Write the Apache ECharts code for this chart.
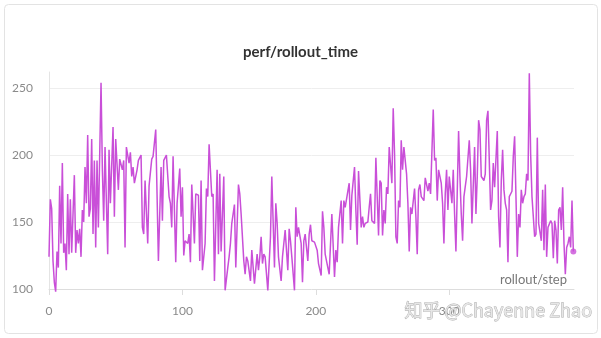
<!DOCTYPE html>
<html>
<head>
<meta charset="utf-8">
<script src="https://cdn.jsdelivr.net/npm/echarts@6/dist/echarts.min.js"></script>
<style>
html,body{margin:0;padding:0;background:#fff;}
#chart{width:601px;height:338px;}
</style>
</head>
<body>
<div id="chart"></div>
<script>
// ---- data ----
var chartTitle = 'perf/rollout_time';
var xAxisName = 'rollout/step';
var watermark = '知乎 @Chayenne Zhao';
var yTickValues = [100, 150, 200, 250];
var xTickValues = [0, 100, 200, 300];

var steps = [0,1,2,3,4,5,6,7,8,9,10,11,12,13,14,15,16,17,19,20,21,22,23,24,25,26,27,28,29,30,31,32,33,34,35,36,37,39,40,41,42,44,45,46,48,49,50,52,53,55,56,57,58,60,61,62,63,64,66,67,69,70,71,72,74,75,77,78,80,82,84,85,86,88,90,91,92,93,95,96,98,99,100,101,102,104,105,106,107,109,110,112,113,114,115,117,118,119,120,122,123,124,126,127,128,129,131,132,134,135,136,137,139,140,142,143,144,146,147,148,149,151,152,154,156,157,158,159,160,161,162,164,166,167,169,170,171,172,174,175,176,177,179,180,181,182,184,185,186,187,189,190,191,192,194,195,196,197,199,201,202,204,205,206,207,209,210,212,214,215,216,217,219,220,221,222,224,225,226,227,229,230,231,232,234,235,236,237,239,240,241,242,244,245,247,248,249,250,251,252,253,254,255,257,258,259,260,261,262,263,264,265,266,268,269,270,271,272,274,275,276,277,278,279,281,282,284,285,286,288,289,290,291,292,294,295,296,297,298,299,300,302,303,304,305,307,308,309,310,311,313,315,316,317,319,320,321,322,323,324,326,327,328,329,331,332,333,334,336,337,338,339,340,341,342,343,344,345,347,348,349,350,351,352,353,354,355,356,357,358,359,360,361,362,364,365,366,367,369,370,371,372,373,374,376,377,378,379,380,381,382,383,384,385,386,387,388,389,390,391,392,393];

var rolloutTime = [124,167,160,121,105,98,128,116,177,134,194,127,134,114,171,126,167,127,185,127,144,134,145,124,159,150,191,164,215,154,160,212,141,196,131,196,146,254,189,151,206,126,204,164,221,154,212,174,197,189,196,131,206,194,202,184,191,179,189,196,200,146,141,181,134,177,197,199,219,121,191,151,196,200,169,164,146,199,120,164,190,154,176,125,136,134,141,120,178,134,171,170,121,181,114,134,175,169,208,169,171,106,189,126,186,128,184,99,116,124,134,149,163,116,178,171,156,121,111,124,121,106,129,104,126,114,124,139,119,126,124,99,139,184,116,164,149,124,106,124,134,144,114,145,136,124,99,161,139,146,134,105,136,141,121,141,148,136,135,129,119,110,158,146,126,116,111,156,109,129,120,146,166,134,166,161,173,179,144,170,191,159,133,188,146,154,146,149,150,161,171,151,149,198,140,181,179,140,159,149,176,171,206,179,235,201,139,134,166,161,211,189,206,186,164,128,161,156,175,154,126,174,178,169,166,183,173,179,171,234,196,198,166,189,179,164,134,171,189,159,184,164,189,156,128,218,184,156,136,169,184,211,189,149,206,156,184,226,219,184,181,186,226,233,159,166,194,176,218,154,131,181,204,174,164,159,120,169,173,199,214,169,124,156,146,174,164,169,171,186,181,261,201,169,139,141,213,149,136,174,129,178,124,146,151,149,123,151,144,119,159,161,144,176,134,111,131,134,139,131,166,128];

// ---- build ----
var lineData = steps.map(function (s, i) { return [s, rolloutTime[i]]; });
var lastPoint = [[steps[steps.length - 1], rolloutTime[rolloutTime.length - 1]]];

var chart = echarts.init(document.getElementById('chart'), null, {renderer: 'canvas'});
var FONT = 'Lato, "Noto Sans", sans-serif';
var LINE_COLOR = '#c94fd8';

chart.setOption({
  animation: false,
  backgroundColor: '#ffffff',
  title: {
    text: chartTitle,
    left: 'center',
    top: 40,
    textStyle: {fontFamily: FONT, fontSize: 15, fontWeight: 'bold', color: '#333333'}
  },
  grid: {left: 49, right: 27, top: 72, bottom: 49, containLabel: false},
  xAxis: {
    type: 'value',
    min: 0,
    max: 393.5,
    interval: 100,
    axisLine: {show: true, lineStyle: {color: '#dddddd', width: 1}},
    axisTick: {show: true, inside: false, length: 6, customValues: xTickValues, lineStyle: {color: '#dddddd'}},
    axisLabel: {customValues: xTickValues, margin: 16, color: '#8a8a8a', fontFamily: FONT, fontSize: 12},
    splitLine: {show: false}
  },
  yAxis: {
    type: 'value',
    min: 100,
    max: 262,
    interval: 50,
    axisLine: {show: true, lineStyle: {color: '#e4e4e4', width: 1}},
    axisTick: {show: false},
    axisLabel: {customValues: yTickValues, margin: 16, color: '#8a8a8a', fontFamily: FONT, fontSize: 12},
    splitLine: {show: true, showMinLine: false, showMaxLine: false, lineStyle: {color: '#eeeeee', width: 1}}
  },
  series: [
    {
      type: 'line',
      data: lineData,
      showSymbol: false,
      clip: false,
      lineStyle: {color: LINE_COLOR, width: 1.5},
      itemStyle: {color: LINE_COLOR},
      z: 3
    },
    {
      type: 'scatter',
      data: lastPoint,
      symbolSize: 6,
      itemStyle: {color: LINE_COLOR},
      clip: false,
      z: 4
    }
  ],
  graphic: [
    {
      type: 'rect',
      shape: {x: 4.5, y: 4.5, width: 593, height: 329, r: 4},
      style: {fill: 'none', stroke: '#e3e3e3', lineWidth: 1},
      z: -1
    },
    {
      type: 'text',
      right: 34,
      top: 273,
      style: {text: xAxisName, font: '13px ' + FONT, fill: '#777777'},
      z: 10
    },
    {
      type: 'text',
      left: 404,
      top: 301,
      style: {
        text: watermark,
        font: '18px "Noto Sans CJK SC", "Noto Sans", sans-serif',
        fill: '#e6e6e6',
        stroke: '#aaaaaa',
        lineWidth: 0.8
      },
      z: 20
    }
  ]
});
</script>
</body>
</html>
